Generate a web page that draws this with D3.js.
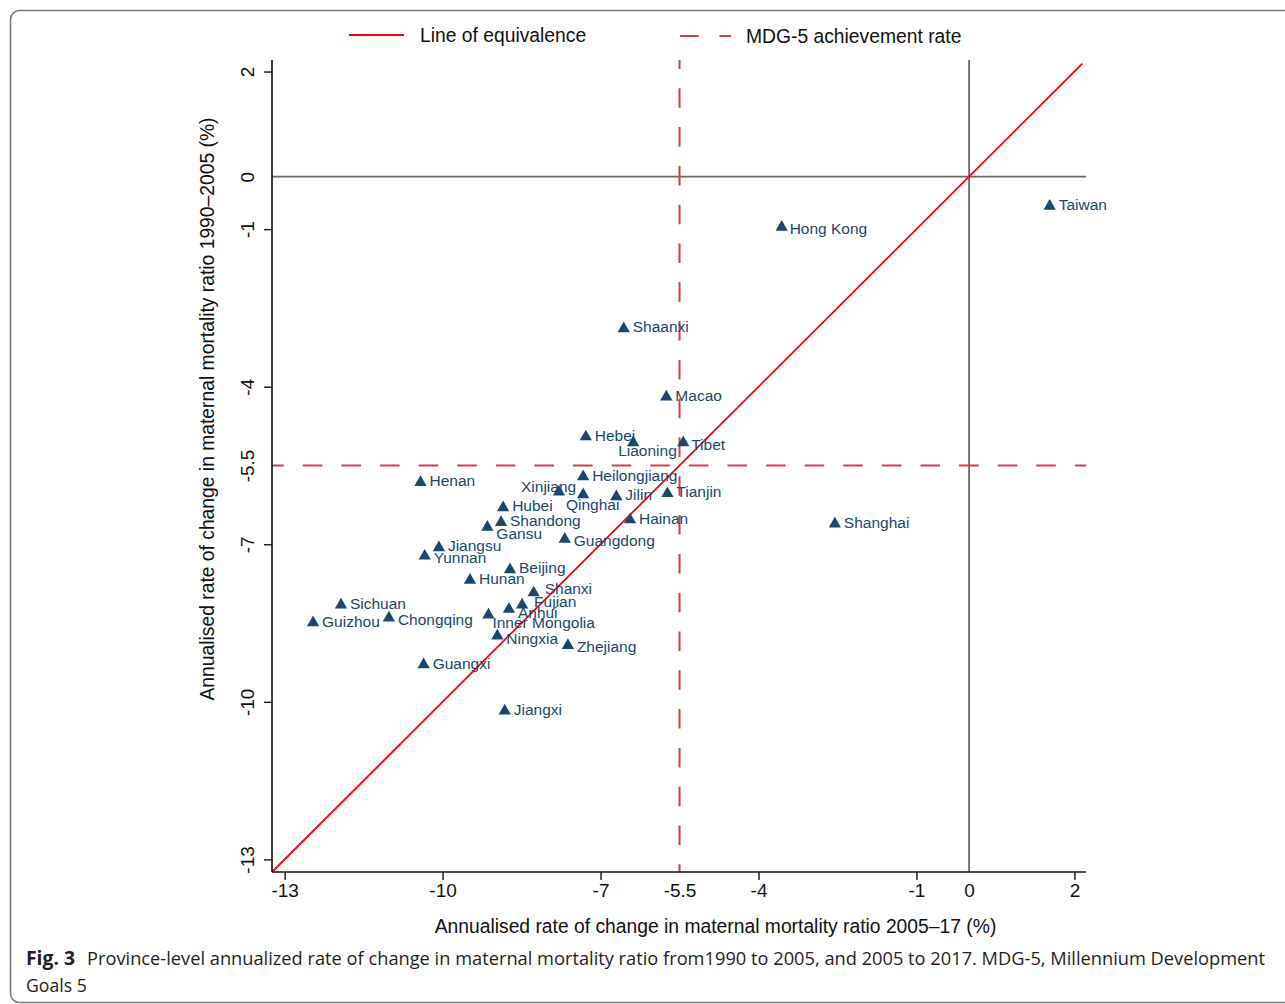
<!DOCTYPE html>
<html>
<head>
<meta charset="utf-8">
<script src="https://cdn.jsdelivr.net/npm/d3@7"></script>
<style>
  html, body { margin: 0; padding: 0; background: #fff; }
  svg { display: block; }
</style>
</head>
<body>
<div id="chart"></div>
<script>
// Province-level annualised rate of change in maternal mortality ratio (%)
const provinces = [
  "Taiwan", "Hong Kong", "Shaanxi", "Macao", "Hebei", "Liaoning", "Tibet",
  "Henan", "Heilongjiang", "Xinjiang", "Qinghai", "Jilin", "Tianjin", "Hubei",
  "Shandong", "Gansu", "Hainan", "Shanghai", "Guangdong", "Jiangsu", "Yunnan",
  "Beijing", "Hunan", "Shanxi", "Fujian", "Anhui", "Inner Mongolia", "Sichuan",
  "Guizhou", "Chongqing", "Ningxia", "Zhejiang", "Guangxi", "Jiangxi"
];
// 2005–17 (horizontal)
const rate2005to17 = [
  1.53, -3.56, -6.56, -5.75, -7.28, -6.38, -5.43,
  -10.42, -7.33, -7.33, -7.79, -6.70, -5.73, -8.85,
  -8.89, -9.15, -6.44, -2.55, -7.68, -10.07, -10.34,
  -8.72, -9.48, -8.27, -8.49, -8.74, -9.13, -11.93,
  -12.46, -11.02, -8.96, -7.62, -10.36, -8.82
];
// 1990–2005 (vertical)
const rate1990to2005 = [
  -0.53, -0.93, -2.86, -4.16, -4.92, -5.03, -5.03,
  -5.79, -5.68, -6.02, -5.97, -6.06, -6.00, -6.27,
  -6.55, -6.64, -6.50, -6.58, -6.87, -7.03, -7.19,
  -7.45, -7.65, -7.89, -8.12, -8.20, -8.31, -8.12,
  -8.46, -8.37, -8.71, -8.89, -9.26, -10.14
];
const axisTicks = [-13, -10, -7, -5.5, -4, -1, 0, 2];
const mdgRate = -5.5;
const axisDomain = [-13.24, 2.22];
const equivalenceSpan = [-13.24, 2.15];

// Marker-label placement: default is to the right of the marker.
// Entries: [dx, dy, anchor] in pixels relative to the marker centre.
const labelPlacement = {
  "Liaoning": [-15, 9.5, "start"],
  "Xinjiang": [-7, -6, "end"],
  "Qinghai": [7, 14, "start"],
  "Gansu": [9, 8, "start"],
  "Anhui": [9, 5.5, "start"],
  "Inner Mongolia": [4, 9.5, "start"],
  "Tibet": [8, 3.5, "start"],
  "Yunnan": [9, 3.4, "start"],
  "Guangdong": [9, 3.4, "start"],
  "Chongqing": [9, 3, "start"],
  "Ningxia": [9, 4, "start"],
  "Zhejiang": [9, 2.7, "start"],
  "Hong Kong": [8, 2.5, "start"],
  "Fujian": [12, -1.5, "start"],
  "Shanxi": [11, -2.5, "start"]
};

const W = 1285, H = 1004;
const plot = { left: 272, right: 1086, top: 60, bottom: 872 };
const navy = "#1a476f";
const zeroColor = "#6f6561";
const mdgColor = "#d43c46";
const axisFont = "'Liberation Sans', Arial, sans-serif";
const tickText = d => String(d); // plain hyphen-minus, e.g. "-5.5"

const svg = d3.select("#chart").append("svg")
  .attr("width", W).attr("height", H)
  .attr("viewBox", `0 0 ${W} ${H}`);

svg.append("rect").attr("width", W).attr("height", H).attr("fill", "#fff");

// Figure frame
svg.append("rect")
  .attr("x", 10.5).attr("y", 10.5)
  .attr("width", 1320).attr("height", 992)
  .attr("rx", 9).attr("ry", 9)
  .attr("fill", "none").attr("stroke", "#7a7a7a").attr("stroke-width", 1.6);

const x = d3.scaleLinear().domain(axisDomain).range([plot.left, plot.right]);
const y = d3.scaleLinear().domain(axisDomain).range([plot.bottom, plot.top]);

// Reference lines at zero
svg.append("line")
  .attr("x1", plot.left).attr("x2", plot.right)
  .attr("y1", y(0)).attr("y2", y(0))
  .attr("stroke", zeroColor).attr("stroke-width", 1.8);
svg.append("line")
  .attr("x1", x(0)).attr("x2", x(0))
  .attr("y1", plot.top).attr("y2", plot.bottom)
  .attr("stroke", zeroColor).attr("stroke-width", 1.8);

// MDG-5 achievement rate lines
svg.append("line")
  .attr("x1", x(mdgRate)).attr("x2", x(mdgRate))
  .attr("y1", plot.top).attr("y2", plot.bottom)
  .attr("stroke", mdgColor).attr("stroke-width", 2)
  .attr("stroke-dasharray", "19.5,19.3").attr("stroke-dashoffset", 10.5);
svg.append("line")
  .attr("x1", plot.left).attr("x2", plot.right)
  .attr("y1", y(mdgRate)).attr("y2", y(mdgRate))
  .attr("stroke", mdgColor).attr("stroke-width", 2)
  .attr("stroke-dasharray", "19.5,19.1").attr("stroke-dashoffset", 7.7);

// Line of equivalence
svg.append("path")
  .datum(equivalenceSpan)
  .attr("d", d3.line().x(d => x(d)).y(d => y(d)))
  .attr("stroke", "#ff0000").attr("stroke-width", 1.8).attr("fill", "none");

// Axes
const xAxis = d3.axisBottom(x).tickValues(axisTicks).tickSize(8).tickPadding(4)
  .tickFormat(tickText);
const gx = svg.append("g").attr("transform", `translate(0,${plot.bottom})`).call(xAxis);
gx.select(".domain").attr("d", `M${plot.left},0H${plot.right}`)
  .attr("stroke", "#111").attr("stroke-width", 1.6);
gx.selectAll(".tick line").attr("stroke", "#111").attr("stroke-width", 1.4)
  .filter(d => d === 0 || d === mdgRate).remove();
gx.selectAll(".tick text")
  .attr("font-family", axisFont).attr("font-size", 19).attr("fill", "#111");

const yAxis = d3.axisLeft(y).tickValues(axisTicks).tickSize(8).tickFormat(tickText);
const gy = svg.append("g").attr("transform", `translate(${plot.left},0)`).call(yAxis);
gy.select(".domain").attr("d", `M0,${plot.top}V${plot.bottom}`)
  .attr("stroke", "#111").attr("stroke-width", 1.6);
gy.selectAll(".tick line").attr("stroke", "#111").attr("stroke-width", 1.4)
  .filter(d => d === 0 || d === mdgRate).remove();
gy.selectAll(".tick text")
  .attr("font-family", axisFont).attr("font-size", 19).attr("fill", "#111")
  .attr("x", 0).attr("dy", "0.35em").attr("text-anchor", "middle")
  .attr("transform", "translate(-25,0) rotate(-90)");

svg.selectAll("g").attr("font-family", axisFont);

// Axis titles
svg.append("text")
  .attr("x", 715.5).attr("y", 933)
  .attr("text-anchor", "middle")
  .attr("font-family", axisFont).attr("font-size", 19.3).attr("fill", "#111")
  .text("Annualised rate of change in maternal mortality ratio 2005–17 (%)");
svg.append("text")
  .attr("transform", "translate(214,409) rotate(-90)")
  .attr("text-anchor", "middle")
  .attr("font-family", axisFont).attr("font-size", 19.3).attr("fill", "#111")
  .text("Annualised rate of change in maternal mortality ratio 1990–2005 (%)");

// Province markers and labels
const data = provinces.map((name, i) => ({
  name, x: rate2005to17[i], y: rate1990to2005[i]
}));

const triangleBox = {
  draw(context, size) {
    const w = Math.sqrt(size);
    const h = w * 0.875;
    context.moveTo(0, -h / 2);
    context.lineTo(w / 2, h / 2);
    context.lineTo(-w / 2, h / 2);
    context.closePath();
  }
};
const marker = d3.symbol().type(triangleBox).size(150);

const pts = svg.append("g");
pts.selectAll("path")
  .data(data).join("path")
  .attr("transform", d => `translate(${x(d.x)},${y(d.y)})`)
  .attr("d", marker)
  .attr("fill", navy);

pts.selectAll("text")
  .data(data).join("text")
  .each(function (d) {
    const p = labelPlacement[d.name] || [9, 0, "start"];
    d3.select(this)
      .attr("x", x(d.x) + p[0])
      .attr("y", y(d.y) + p[1])
      .attr("text-anchor", p[2]);
  })
  .attr("dy", "0.36em")
  .attr("font-family", axisFont).attr("font-size", 15.5).attr("fill", navy)
  .text(d => d.name);

// Legend
const legend = svg.append("g").attr("font-family", axisFont).attr("font-size", 19.3).attr("fill", "#111");
legend.append("line")
  .attr("x1", 349).attr("x2", 404).attr("y1", 35).attr("y2", 35)
  .attr("stroke", "#ff0000").attr("stroke-width", 1.8);
legend.append("text").attr("x", 420).attr("y", 35).attr("dy", "0.36em")
  .text("Line of equivalence");
legend.append("line")
  .attr("x1", 680).attr("x2", 731).attr("y1", 36).attr("y2", 36)
  .attr("stroke", mdgColor).attr("stroke-width", 2)
  .attr("stroke-dasharray", "18.5,21");
legend.append("text").attr("x", 746).attr("y", 36).attr("dy", "0.36em")
  .text("MDG-5 achievement rate");

// Figure caption
const capFont = "'Open Sans', 'Noto Sans', sans-serif";
svg.append("text")
  .attr("x", 26).attr("y", 965)
  .attr("font-family", capFont).attr("font-size", 19).attr("font-weight", 700)
  .attr("fill", "#231f20")
  .attr("textLength", 49).attr("lengthAdjust", "spacingAndGlyphs")
  .text("Fig. 3");
svg.append("text")
  .attr("x", 87).attr("y", 965)
  .attr("font-family", capFont).attr("font-size", 19)
  .attr("fill", "#231f20")
  .attr("textLength", 1178).attr("lengthAdjust", "spacingAndGlyphs")
  .text("Province-level annualized rate of change in maternal mortality ratio from1990 to 2005, and 2005 to 2017. MDG-5, Millennium Development");
svg.append("text")
  .attr("x", 26).attr("y", 992)
  .attr("font-family", capFont).attr("font-size", 19)
  .attr("fill", "#231f20")
  .attr("textLength", 61).attr("lengthAdjust", "spacingAndGlyphs")
  .text("Goals 5");
</script>
</body>
</html>
